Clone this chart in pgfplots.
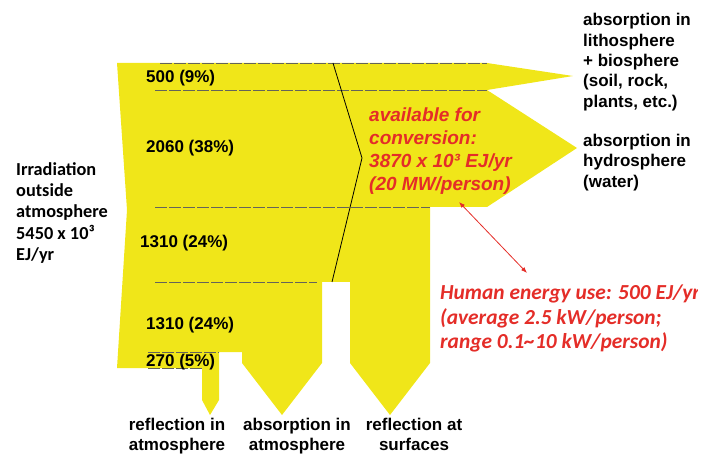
\documentclass[border=0pt]{standalone}
\usepackage{pgfplots}
\pgfplotsset{compat=1.18}
\usepackage{fontspec}
\setmainfont{Liberation Sans}
\newfontfamily\calfont{Carlito}
\usetikzlibrary{arrows.meta}
\definecolor{ylw}{RGB}{240,230,25}
\definecolor{rd}{RGB}{228,45,40}
\definecolor{dsh}{RGB}{100,100,90}
\newcommand\lab{\fontsize{17}{20.5}\selectfont\bfseries}
\newcommand\rlab{\fontsize{19}{23}\selectfont\bfseries\itshape\color{rd}}
\newcommand\clab{\calfont\fontsize{18.3}{21.3}\selectfont\bfseries}
\newcommand\hlab{\calfont\fontsize{21.4}{24.5}\selectfont\bfseries\itshape\color{rd}}
\begin{document}
\begin{tikzpicture}
\useasboundingbox (0,0) rectangle (712pt,454pt);
\clip (0,0) rectangle (697pt,454pt);
\begin{axis}[at={(0,0)}, anchor=south west, scale only axis,
  width=712pt, height=454pt, xmin=0, xmax=712, ymin=0, ymax=454,
  y dir=reverse, hide axis, clip=false]
% main flow shape
\addplot[fill=ylw, draw=none] coordinates {
 (117,63) (487,63) (573,76) (487,90) (577,148) (487,207) (430,207)
 (430,363) (390,415) (350,363) (350,282) (322,282) (322,363) (282,415)
 (242,363) (242,352) (219,352) (219,400) (210,415) (202,400) (202,368)
 (117,368) (127,210) (117,63)};
% dashed separators
\addplot[dsh, line width=0.6pt, dash pattern=on 12pt off 2pt] coordinates {(160,63) (487,63)};
\addplot[dsh, line width=0.6pt, dash pattern=on 12pt off 2pt] coordinates {(155,90) (487,90)};
\addplot[dsh, line width=0.6pt, dash pattern=on 12pt off 2pt] coordinates {(155,207) (430,207)};
\addplot[dsh, line width=0.6pt, dash pattern=on 12pt off 2pt] coordinates {(155,282) (317,282)};
\addplot[dsh, line width=0.6pt, dash pattern=on 12pt off 2pt] coordinates {(148,352) (219,352)};
\addplot[dsh, line width=0.6pt, dash pattern=on 12pt off 2pt] coordinates {(148,368) (202,368)};
% black chevron line
\addplot[black, line width=0.8pt] coordinates {(333,63) (362,158) (332,282)};
% red double arrow
\draw[rd, line width=0.8pt, {Latex[length=6pt,width=4.5pt]}-{Latex[length=6pt,width=4.5pt]}]
  (axis cs:459,202) -- (axis cs:527,273);
% flow values
\node[anchor=base west, inner sep=0pt, font=\lab] at (axis cs:146,83) {500 (9\%)};
\node[anchor=base west, inner sep=0pt, font=\lab] at (axis cs:146,153) {2060 (38\%)};
\node[anchor=base west, inner sep=0pt, font=\lab] at (axis cs:140,248) {1310 (24\%)};
\node[anchor=base west, inner sep=0pt, font=\lab] at (axis cs:146,329) {1310 (24\%)};
\node[anchor=base west, inner sep=0pt, font=\lab] at (axis cs:146,366) {270 (5\%)};
% left label
\node[anchor=base west, inner sep=0pt, font=\clab] at (axis cs:16,176) {Irradiation};
\node[anchor=base west, inner sep=0pt, font=\clab] at (axis cs:16,197) {outside};
\node[anchor=base west, inner sep=0pt, font=\clab] at (axis cs:16,218) {atmosphere};
\node[anchor=base west, inner sep=0pt, font=\clab] at (axis cs:16,240) {5450 x 10³};
\node[anchor=base west, inner sep=0pt, font=\clab] at (axis cs:16,261) {EJ/yr};
% right labels
\node[anchor=base west, inner sep=0pt, font=\lab] at (axis cs:583,26) {absorption in};
\node[anchor=base west, inner sep=0pt, font=\lab] at (axis cs:583,47) {lithosphere};
\node[anchor=base west, inner sep=0pt, font=\lab] at (axis cs:583,67) {+ biosphere};
\node[anchor=base west, inner sep=0pt, font=\lab] at (axis cs:583,87) {(soil, rock,};
\node[anchor=base west, inner sep=0pt, font=\lab] at (axis cs:583,108) {plants, etc.)};
\node[anchor=base west, inner sep=0pt, font=\lab] at (axis cs:583,147) {absorption in};
\node[anchor=base west, inner sep=0pt, font=\lab] at (axis cs:583,167) {hydrosphere};
\node[anchor=base west, inner sep=0pt, font=\lab] at (axis cs:583,188) {(water)};
% available text
\node[anchor=base west, inner sep=0pt, font=\rlab] at (axis cs:369,122) {available for};
\node[anchor=base west, inner sep=0pt, font=\rlab] at (axis cs:369,145) {conversion:};
\node[anchor=base west, inner sep=0pt, font=\rlab] at (axis cs:369,168) {3870 x 10³ EJ/yr};
\node[anchor=base west, inner sep=0pt, font=\rlab] at (axis cs:369,191) {(20 MW/person)};
% human use text
\node[anchor=base west, inner sep=0pt, font=\hlab] at (axis cs:440,299) {Human energy use: 500 EJ/yr};
\node[anchor=base west, inner sep=0pt, font=\hlab] at (axis cs:440,324) {(average 2.5 kW/person;};
\node[anchor=base west, inner sep=0pt, font=\hlab] at (axis cs:440,348) {range 0.1\textasciitilde10 kW/person)};
% bottom labels
\node[anchor=base, inner sep=0pt, font=\lab] at (axis cs:177,430) {reflection in};
\node[anchor=base, inner sep=0pt, font=\lab] at (axis cs:177,450) {atmosphere};
\node[anchor=base, inner sep=0pt, font=\lab] at (axis cs:297,430) {absorption in};
\node[anchor=base, inner sep=0pt, font=\lab] at (axis cs:297,450) {atmosphere};
\node[anchor=base, inner sep=0pt, font=\lab] at (axis cs:414,430) {reflection at};
\node[anchor=base, inner sep=0pt, font=\lab] at (axis cs:414,450) {surfaces};
\end{axis}
\end{tikzpicture}
\end{document}
